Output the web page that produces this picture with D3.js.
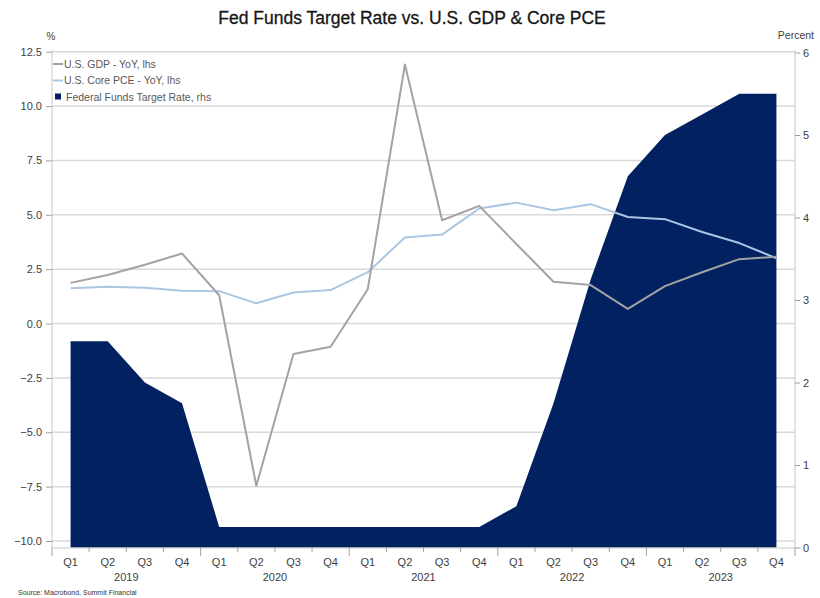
<!DOCTYPE html>
<html>
<head>
<meta charset="utf-8">
<script src="https://cdn.jsdelivr.net/npm/d3@7"></script>
<style>
  body { margin: 0; background: #fff; }
  svg { display: block; font-family: "Liberation Sans", Arial, sans-serif; }
  .tick-label { font-size: 11px; fill: #404040; }
  .legend-text { font-size: 10.5px; fill: #595959; }
</style>
</head>
<body>
<svg id="chart" width="820" height="598"></svg>
<script>
// quarterly periods, Q1 2019 .. Q4 2023
const quarters = ["Q1","Q2","Q3","Q4","Q1","Q2","Q3","Q4","Q1","Q2","Q3","Q4","Q1","Q2","Q3","Q4","Q1","Q2","Q3","Q4"];
const years = ["2019","2020","2021","2022","2023"];
const periods = quarters.map((q, i) => years[Math.floor(i / 4)] + q);

// U.S. GDP YoY, lhs (%)
const gdp = [1.87, 2.23, 2.7, 3.22, 1.3, -7.46, -1.4, -1.07, 1.58, 11.91, 4.75, 5.41, 3.66, 1.92, 1.77, 0.67, 1.72, 2.36, 2.96, 3.07];
// U.S. Core PCE YoY, lhs (%)
const pce = [1.62, 1.69, 1.65, 1.51, 1.49, 0.93, 1.43, 1.54, 2.36, 3.96, 4.09, 5.29, 5.56, 5.21, 5.49, 4.9, 4.8, 4.21, 3.7, 3.0];
// Federal Funds Target Rate, rhs (percent)
const fedFunds = [2.5, 2.5, 2.0, 1.75, 0.25, 0.25, 0.25, 0.25, 0.25, 0.25, 0.25, 0.25, 0.5, 1.75, 3.25, 4.5, 5.0, 5.25, 5.5, 5.5];

const leftTicks = [12.5, 10, 7.5, 5, 2.5, 0, -2.5, -5, -7.5, -10];
const rightTicks = [0, 1, 2, 3, 4, 5, 6];

const svg = d3.select("#chart");
const plot = { left: 52, right: 795, top: 52, bottom: 548 };

const x = d3.scaleBand().domain(periods).range([plot.left, plot.right]).padding(0);
const cx = d => x(d) + x.bandwidth() / 2;
const yL = d3.scaleLinear().domain([-10, 12.5]).range([541, 51.7]);
const yR = d3.scaleLinear().domain([0, 6]).range([547.5, 52.5]);

const gridColor = "#d9d9d9";

// gridlines (left axis)
svg.append("g").selectAll("line").data(leftTicks).join("line")
  .attr("x1", plot.left).attr("x2", plot.right)
  .attr("y1", d => yL(d)).attr("y2", d => yL(d))
  .attr("stroke", gridColor).attr("stroke-width", 1.5);

// fed funds area (rhs)
const area = d3.area()
  .x((d, i) => cx(periods[i]))
  .y0(yR(0))
  .y1(d => yR(d));
svg.append("path").datum(fedFunds)
  .attr("d", area)
  .attr("fill", "#022160");

// lines
const lineL = d3.line().x((d, i) => cx(periods[i])).y(d => yL(d));
svg.append("path").datum(pce)
  .attr("d", lineL).attr("fill", "none")
  .attr("stroke", "#abc6e2").attr("stroke-width", 2).attr("stroke-linejoin", "round");
svg.append("path").datum(gdp)
  .attr("d", lineL).attr("fill", "none")
  .attr("stroke", "#a3a3a3").attr("stroke-width", 2).attr("stroke-linejoin", "round");

// left axis
const axL = svg.append("g").attr("transform", `translate(${plot.left},0)`)
  .call(d3.axisLeft(yL).tickValues(leftTicks).tickFormat(d3.format(".1f")).tickSize(6).tickPadding(4));
axL.select(".domain").attr("stroke", "#c8c8c8").attr("d", `M0,${plot.top - 2}V${plot.bottom}`);
axL.selectAll(".tick line").attr("stroke", "#a0a0a0");
axL.selectAll(".tick text").attr("class", "tick-label").attr("font-family", null).attr("font-size", null).attr("fill", null);

// right axis
const axR = svg.append("g").attr("transform", `translate(${plot.right},0)`)
  .call(d3.axisRight(yR).tickValues(rightTicks).tickFormat(d3.format("d")).tickSize(5).tickPadding(3));
axR.select(".domain").attr("stroke", "#c8c8c8").attr("d", `M0,${plot.top - 2}V${plot.bottom}`);
axR.selectAll(".tick line").attr("stroke", "#a0a0a0");
axR.selectAll(".tick text").attr("class", "tick-label").attr("font-family", null).attr("font-size", null).attr("fill", null);

// bottom axis
const axB = svg.append("g").attr("transform", `translate(0,${plot.bottom})`);
axB.append("line").attr("x1", plot.left).attr("x2", plot.right)
  .attr("stroke", "#c8c8c8").attr("stroke-width", 1);
const bounds = d3.range(periods.length + 1).map(i => plot.left + i * x.bandwidth());
axB.selectAll(".qtick").data(bounds).join("line")
  .attr("class", "qtick")
  .attr("x1", d => d).attr("x2", d => d)
  .attr("y1", 0).attr("y2", (d, i) => i % 4 === 0 ? 8 : 4)
  .attr("stroke", "#a0a0a0");
axB.selectAll(".qlabel").data(periods).join("text")
  .attr("class", "qlabel tick-label")
  .attr("x", d => cx(d)).attr("y", 18)
  .attr("text-anchor", "middle")
  .text((d, i) => quarters[i]);
axB.selectAll(".ylabel").data(years).join("text")
  .attr("class", "ylabel tick-label")
  .attr("x", (d, i) => (bounds[i * 4] + bounds[i * 4 + 4]) / 2).attr("y", 33)
  .attr("text-anchor", "middle")
  .text(d => d);

// axis unit labels
svg.append("text").attr("class", "tick-label").attr("x", 51).attr("y", 40)
  .attr("text-anchor", "middle").style("font-size", "10px").text("%");
svg.append("text").attr("class", "tick-label").attr("x", 814).attr("y", 39)
  .attr("text-anchor", "end").style("font-size", "10.5px").text("Percent");

// title
svg.append("text").attr("x", 412).attr("y", 24)
  .attr("text-anchor", "middle")
  .style("font-size", "17.5px").attr("fill", "#161616")
  .attr("stroke", "#161616").attr("stroke-width", 0.3)
  .text("Fed Funds Target Rate vs. U.S. GDP & Core PCE");

// legend
const legendItems = [
  { label: "U.S. GDP - YoY, lhs", type: "line", color: "#a3a3a3" },
  { label: "U.S. Core PCE - YoY, lhs", type: "line", color: "#abc6e2" },
  { label: "Federal Funds Target Rate, rhs", type: "rect", color: "#022160" }
];
const legend = svg.append("g").attr("transform", "translate(52,64)");
legendItems.forEach((it, i) => {
  const g = legend.append("g").attr("transform", `translate(0,${i * 16.5})`);
  if (it.type === "line") {
    g.append("line").attr("x1", 1).attr("x2", 11).attr("y1", 0).attr("y2", 0)
      .attr("stroke", it.color).attr("stroke-width", 2);
  } else {
    g.append("rect").attr("x", 3).attr("y", -3.5).attr("width", 6).attr("height", 6)
      .attr("fill", it.color);
  }
  g.append("text").attr("class", "legend-text").attr("x", it.type === "line" ? 12 : 14).attr("y", 3.8)
    .text(it.label);
});

// source
svg.append("text").attr("x", 18).attr("y", 595)
  .style("font-size", "7px").attr("fill", "#333")
  .text("Source: Macrobond, Summit Financial");
</script>
</body>
</html>
